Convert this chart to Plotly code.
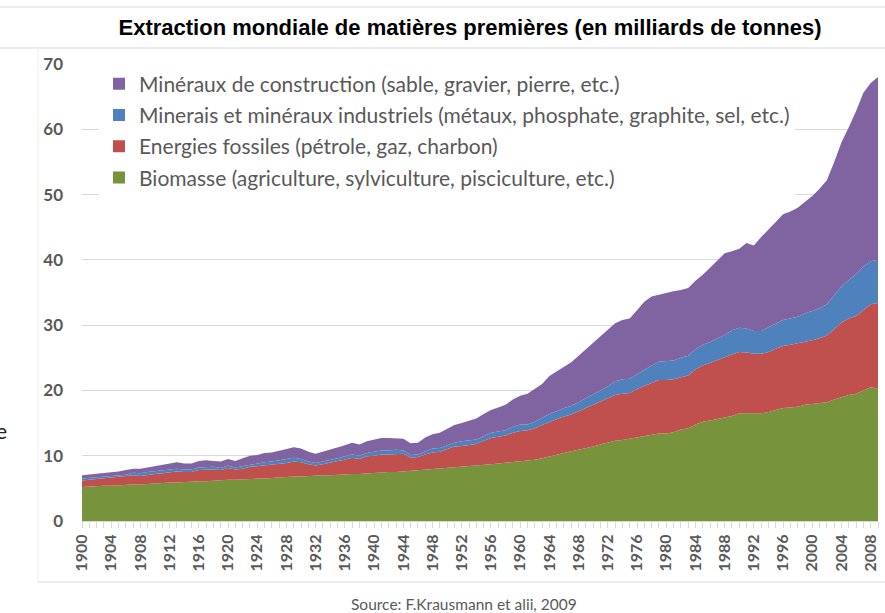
import plotly.graph_objects as go

annees = list(range(1900, 2010))

biomasse = [
    5.2, 5.3, 5.3, 5.4, 5.4, 5.5, 5.5, 5.6, 5.6, 5.7,
    5.8, 5.8, 5.9, 5.9, 6.0, 6.0, 6.1, 6.1, 6.2, 6.2,
    6.3, 6.3, 6.4, 6.4, 6.5, 6.5, 6.6, 6.7, 6.7, 6.8,
    6.8, 6.9, 6.9, 7.0, 7.0, 7.1, 7.1, 7.2, 7.2, 7.3,
    7.4, 7.4, 7.5, 7.5, 7.6, 7.6, 7.7, 7.8, 7.9, 8.0,
    8.1, 8.2, 8.3, 8.4, 8.5, 8.6, 8.7, 8.8, 8.9, 9.0,
    9.1, 9.2, 9.4, 9.6, 9.9, 10.2, 10.5, 10.7, 10.9, 11.1,
    11.4, 11.7, 12.0, 12.3, 12.4, 12.6, 12.8, 13.1, 13.3, 13.4,
    13.4, 13.6, 14.0, 14.2, 14.8, 15.2, 15.4, 15.6, 15.8, 16.1,
    16.5, 16.5, 16.5, 16.5, 16.7, 17.0, 17.3, 17.4, 17.5, 17.8,
    17.9, 18.0, 18.2, 18.6, 19.0, 19.3, 19.5, 20.0, 20.5, 20.3,
]

fossiles = [
    1.0, 1.0, 1.1, 1.1, 1.2, 1.2, 1.3, 1.4, 1.3, 1.4,
    1.4, 1.5, 1.6, 1.7, 1.5, 1.5, 1.7, 1.8, 1.7, 1.6,
    1.8, 1.6, 1.6, 1.9, 1.9, 2.0, 2.0, 2.1, 2.2, 2.3,
    2.2, 1.8, 1.6, 1.7, 2.0, 2.1, 2.3, 2.5, 2.3, 2.6,
    2.6, 2.8, 2.7, 2.8, 2.7, 2.1, 2.1, 2.4, 2.6, 2.6,
    2.9, 3.2, 3.2, 3.3, 3.3, 3.7, 4.0, 4.1, 4.2, 4.5,
    4.7, 4.7, 4.8, 5.1, 5.3, 5.4, 5.5, 5.6, 5.9, 6.2,
    6.4, 6.5, 6.7, 7.0, 7.1, 7.0, 7.4, 7.6, 7.8, 8.2,
    8.2, 8.1, 8.0, 8.1, 8.4, 8.6, 8.8, 9.1, 9.3, 9.4,
    9.4, 9.3, 9.1, 9.1, 9.2, 9.4, 9.5, 9.6, 9.7, 9.6,
    9.8, 10.0, 10.2, 10.8, 11.4, 11.7, 11.9, 12.3, 12.7, 13.1,
]

minerais = [
    0.3, 0.3, 0.3, 0.3, 0.3, 0.3, 0.3, 0.4, 0.4, 0.4,
    0.4, 0.4, 0.4, 0.4, 0.4, 0.4, 0.4, 0.4, 0.4, 0.3,
    0.4, 0.3, 0.4, 0.4, 0.4, 0.5, 0.5, 0.5, 0.5, 0.6,
    0.5, 0.4, 0.4, 0.4, 0.4, 0.4, 0.5, 0.5, 0.5, 0.5,
    0.6, 0.6, 0.6, 0.6, 0.5, 0.4, 0.4, 0.5, 0.6, 0.6,
    0.6, 0.6, 0.7, 0.7, 0.7, 0.7, 0.8, 0.8, 0.8, 0.9,
    1.0, 0.9, 1.0, 1.1, 1.2, 1.2, 1.3, 1.3, 1.4, 1.5,
    1.7, 1.8, 1.9, 2.1, 2.2, 2.2, 2.3, 2.4, 2.7, 2.8,
    2.9, 2.9, 3.0, 3.0, 3.1, 3.2, 3.2, 3.2, 3.4, 3.7,
    3.7, 3.7, 3.5, 3.5, 3.7, 3.8, 4.0, 4.1, 4.1, 4.4,
    4.5, 4.6, 4.8, 5.1, 5.5, 5.9, 6.4, 6.7, 6.6, 6.6,
]

construction = [
    0.5, 0.5, 0.5, 0.6, 0.6, 0.6, 0.7, 0.6, 0.7, 0.7,
    0.8, 0.8, 0.9, 1.0, 0.9, 0.9, 1.0, 1.0, 0.9, 1.0,
    1.0, 1.0, 1.2, 1.3, 1.3, 1.4, 1.4, 1.5, 1.6, 1.6,
    1.6, 1.5, 1.4, 1.5, 1.5, 1.6, 1.7, 1.8, 1.7, 1.8,
    1.9, 1.9, 1.9, 1.8, 1.8, 1.8, 1.8, 2.1, 2.2, 2.3,
    2.5, 2.7, 2.8, 3.0, 3.2, 3.4, 3.5, 3.7, 3.9, 4.2,
    4.4, 4.7, 5.0, 5.2, 5.8, 6.1, 6.4, 6.7, 7.1, 7.5,
    7.8, 8.2, 8.7, 8.9, 9.1, 9.2, 9.8, 10.5, 10.6, 10.3,
    10.4, 10.6, 10.4, 10.4, 10.5, 10.7, 11.4, 12.0, 12.5, 12.1,
    12.1, 13.1, 13.1, 14.4, 15.0, 15.6, 16.2, 16.3, 16.7, 17.1,
    17.6, 18.3, 19.0, 20.5, 22.1, 23.4, 25.0, 26.6, 27.3, 28.0,
]

series_noms = [
    "Biomasse (agriculture, sylviculture, pisciculture, etc.)",
    "Energies fossiles (pétrole, gaz, charbon)",
    "Minerais et minéraux industriels (métaux, phosphate, graphite, sel, etc.)",
    "Minéraux de construction (sable, gravier, pierre, etc.)",
]
series_valeurs = [biomasse, fossiles, minerais, construction]
couleurs = ["#77933C", "#C0504D", "#4F81BD", "#8064A2"]

titre = "Extraction mondiale de matières premières (en milliards de tonnes)"
source = "Source: F.Krausmann et alii, 2009"

fig = go.Figure()

for nom, vals, c in zip(series_noms, series_valeurs, couleurs):
    fig.add_trace(go.Scatter(
        x=annees, y=vals, name=nom, mode="lines",
        stackgroup="one", line=dict(width=0, color=c),
        fillcolor=c, showlegend=False,
    ))

# legend entries (square swatches), top to bottom
for nom, c in reversed(list(zip(series_noms, couleurs))):
    fig.add_trace(go.Scatter(
        x=[None], y=[None], name=nom, mode="markers",
        marker=dict(symbol="square", size=10, color=c),
        legendgroup=nom, showlegend=True,
    ))

W, H = 885, 613
L, R, T, B = 82, 7, 64, 92
pw, ph = W - L - R, H - T - B

def px(xp):
    return (xp - L) / pw

def py(yp):
    return (H - B - yp) / ph

grid = "#d9d9d9"
shapes = [
    dict(type="line", xref="paper", yref="paper", x0=px(0), x1=px(885), y0=py(7), y1=py(7),
         line=dict(color=grid, width=1)),
    dict(type="line", xref="paper", yref="paper", x0=px(0), x1=px(885), y0=py(48), y1=py(48),
         line=dict(color=grid, width=1)),
    dict(type="line", xref="paper", yref="paper", x0=px(38), x1=px(885), y0=py(582), y1=py(582),
         line=dict(color=grid, width=1)),
    dict(type="line", xref="paper", yref="paper", x0=px(38), x1=px(38), y0=py(48), y1=py(582),
         line=dict(color="#ececec", width=1)),
]

fig.update_layout(
    width=W, height=H,
    margin=dict(l=L, r=R, t=T, b=B),
    paper_bgcolor="white", plot_bgcolor="white",
    title=dict(text="<b>" + titre + "</b>", x=470 / W, xanchor="center",
               y=1 - 27 / H, yanchor="middle",
               font=dict(family="Liberation Sans, Arial, sans-serif",
                         size=22, color="#000000")),
    legend=dict(x=px(99), y=py(63.5), xanchor="left", yanchor="top",
                bgcolor="white", borderwidth=0,
                font=dict(family="Lato, Calibri, sans-serif", size=21, color="#595959"),
                tracegroupgap=1, itemsizing="constant"),
    shapes=shapes,
    annotations=[
        dict(text=source, xref="paper", yref="paper", x=px(464), y=py(604),
             xanchor="center", yanchor="middle", showarrow=False,
             font=dict(family="Lato, Calibri, sans-serif", size=15.5, color="#595959")),
        dict(text="e", xref="paper", yref="paper", x=px(9), y=py(430),
             xanchor="right", yanchor="middle", showarrow=False,
             font=dict(family="Lato, Calibri, sans-serif", size=21, color="#222222")),
    ],
    showlegend=True,
)

fig.update_xaxes(
    range=[1900, 2009], tick0=1900, dtick=4, tickangle=-90,
    showgrid=False, zeroline=False,
    showline=True, linecolor=grid, linewidth=1,
    ticks="outside", ticklen=6, tickcolor=grid,
    minor=dict(dtick=1, ticks="outside", ticklen=6, tickcolor=grid, showgrid=False),
    tickfont=dict(family="Lato, Calibri, sans-serif", size=16, color="#595959", weight="bold"),
)
fig.update_yaxes(
    range=[0, 70], dtick=10, showgrid=True, gridcolor=grid, gridwidth=1,
    zeroline=False, showline=False, ticks="", ticklabelstandoff=18,
    tickfont=dict(family="Lato, Calibri, sans-serif", size=17, color="#595959", weight="bold"),
)

fig.write_html("out.html", config={"displayModeBar": False},
               post_script="document.body.style.margin='0';")
